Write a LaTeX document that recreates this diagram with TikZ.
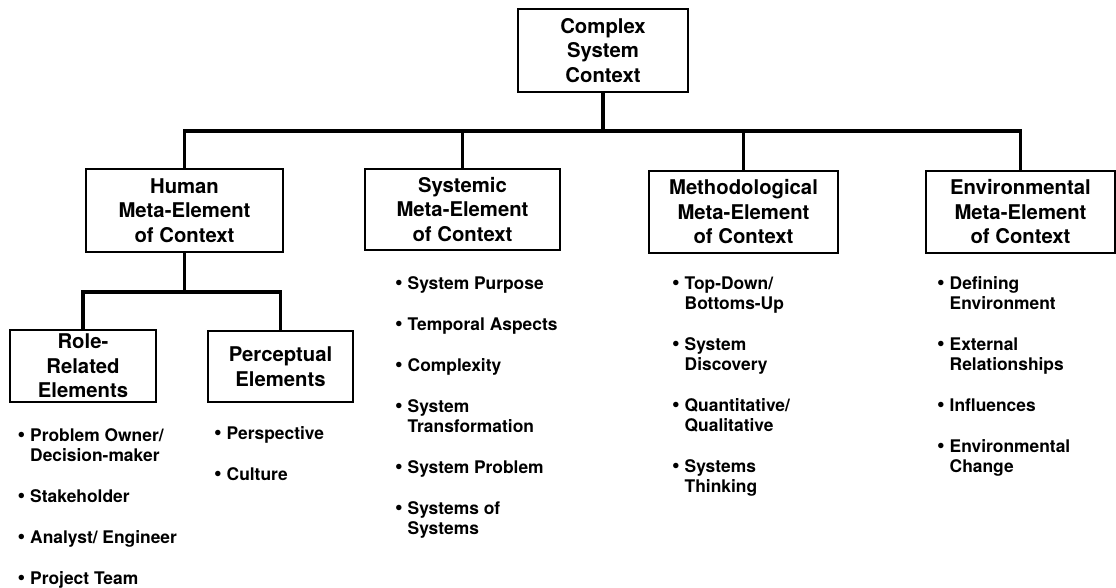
\documentclass[tikz,border=0pt]{standalone}
\usepackage{fontspec}
\setmainfont{TeX Gyre Heros}
\begin{document}
\begin{tikzpicture}[x=1pt,y=-1pt,
  box/.style={draw,line width=1.2pt,inner sep=0pt,align=center,
    font=\bfseries\fontsize{20.3}{24.5}\selectfont},
  bar/.style={line width=3.6pt,line join=miter,line cap=rect},
  itemlist/.style={anchor=base west,inner sep=0pt,
    font=\bfseries\fontsize{17.4}{20}\selectfont}]
\useasboundingbox (0,0) rectangle (1116,588);
\newcommand{\bul}{\makebox[12.5pt][l]{\raisebox{-0.3pt}{\scalebox{1.25}{\textbullet}}}}
\newcommand{\ind}{\hspace*{12.5pt}}
\newcommand{\gapp}{\\[21pt]}

% boxes
\node[box,minimum width=170pt,minimum height=83pt] (top) at (603,50.5)
  {Complex\\System\\Context};
\node[box,minimum width=197pt,minimum height=83pt] (hum) at (184.5,210.5)
  {Human\\Meta-Element\\of Context};
\node[box,minimum width=195pt,minimum height=81pt] (sys) at (462.5,209.5)
  {Systemic\\Meta-Element\\of Context};
\node[box,minimum width=189pt,minimum height=82pt] (meth) at (743.5,212)
  {Methodological\\Meta-Element\\of Context};
\node[box,minimum width=189pt,minimum height=82pt] (env) at (1020.5,212)
  {Environmental\\Meta-Element\\of Context};
\node[box,minimum width=146pt,minimum height=72pt] (role) at (83,366)
  {Role-\\Related\\Elements};
\node[box,minimum width=145pt,minimum height=71pt] (perc) at (280.5,366.5)
  {Perceptual\\Elements};

% connectors
\coordinate (bus) at (603,131);
\coordinate (hbus) at (184.5,292);
\draw[bar] (top.south) -- (bus);
\draw[bar] (hum.north) -- (hum.north |- bus) -- (env.north |- bus) -- (env.north);
\draw[bar] (sys.north) -- (sys.north |- bus);
\draw[bar] (meth.north) -- (meth.north |- bus);
\draw[bar] (hum.south) -- (hbus);
\draw[bar] (role.north) -- (role.north |- hbus) -- (perc.north |- hbus) -- (perc.north);

% item lists
\node[itemlist] (rolelist) at (17.5,441) {\begin{tabular}[t]{@{}l@{}}
  \bul Problem Owner/\\ \ind Decision-maker\gapp
  \bul Stakeholder\gapp
  \bul Analyst/ Engineer\gapp
  \bul Project Team\end{tabular}};
\node[itemlist] (perclist) at (214,439) {\begin{tabular}[t]{@{}l@{}}
  \bul Perspective\gapp
  \bul Culture\end{tabular}};
\node[itemlist] (syslist) at (395,289) {\begin{tabular}[t]{@{}l@{}}
  \bul System Purpose\gapp
  \bul Temporal Aspects\gapp
  \bul Complexity\gapp
  \bul System\\ \ind Transformation\gapp
  \bul System Problem\gapp
  \bul Systems of\\ \ind Systems\end{tabular}};
\node[itemlist] (methlist) at (672,289) {\begin{tabular}[t]{@{}l@{}}
  \bul Top-Down/\\ \ind Bottoms-Up\gapp
  \bul System\\ \ind Discovery\gapp
  \bul Quantitative/\\ \ind Qualitative\gapp
  \bul Systems\\ \ind Thinking\end{tabular}};
\node[itemlist] (envlist) at (937,289) {\begin{tabular}[t]{@{}l@{}}
  \bul Defining\\ \ind Environment\gapp
  \bul External\\ \ind Relationships\gapp
  \bul Influences\gapp
  \bul Environmental\\ \ind Change\end{tabular}};
\end{tikzpicture}
\end{document}
